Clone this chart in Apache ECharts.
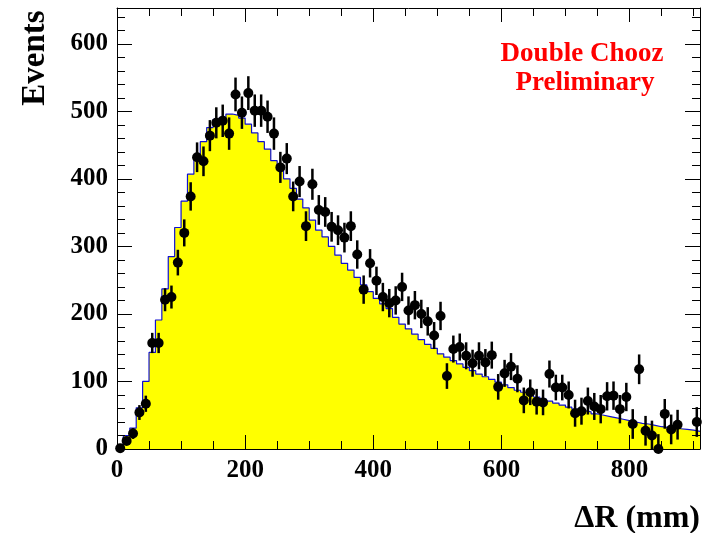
<!DOCTYPE html>
<html><head><meta charset="utf-8">
<script src="https://cdn.jsdelivr.net/npm/echarts@6/dist/echarts.min.js"></script>
<style>html,body{margin:0;padding:0;background:#fff}#c{width:708px;height:533px}</style>
</head><body><div id="c"></div>
<script>
const binWidth = 10;
const xRange = [0, 910];
const yRange = [0, 653];
const xTickLabels = [0, 200, 400, 600, 800];
const yTickLabels = [0, 100, 200, 300, 400, 500, 600];

// Data points (events per 10 mm bin), bin i covers [10i, 10i+10)
const dataValues = [1,12,23,54,67,157,157,221,225,276,
 320,374,432,426,464,483,486,467,525,498,
 527,501,501,492,467,417,430,374,396,330,
 392,354,351,329,324,313,330,288,236,275,
 249,225,216,220,240,205,213,200,189,168,
 197,108,148,151,138,127,138,128,139,92,
 112,122,104,72,84,70,69,111,91,91,
 80,53,56,71,63,59,78,79,59,77,
 37,118,27,20,0,52,29,36,null,null,
 40];
const dataErrors = [4,6,8,11,12,15,15,17,17,19,
 20,21,22,22,23,23,24,24,25,24,
 25,24,24,24,24,23,23,22,23,22,
 23,22,22,22,22,22,22,21,21,21,
 21,21,21,21,21,21,21,21,21,20,
 21,19,20,20,20,20,20,20,20,19,
 20,20,20,19,19,19,19,20,19,19,
 20,20,20,20,20,21,21,21,21,21,
 22,22,22,22,22,22,22,22,null,null,
 22];
// MC expectation histogram
const mcValues = [6,20,31,61,100,143,191,237,285,328,
 367,407,431,455,476,488,491,496,494,490,
 481,468,455,444,427,413,400,386,370,357,
 339,324,314,300,287,275,265,254,243,233,
 223,215,208,195,185,178,170,162,155,149,
 141,136,131,126,121,116,111,107,103,99,
 95,91,87,84,80,77,74,71,68,65,
 62,59,57,55,52,50,48,46,44,42,
 40,38,37,35,33,32,31,30,29,28,
 26];

const FONT = '"Liberation Serif", "DejaVu Serif", serif';
const histData = mcValues.map((v, i) => [i * binWidth, v]);
histData.push([xRange[1], mcValues[mcValues.length - 1]]);
const pts = [], bars = [];
dataValues.forEach((v, i) => {
  if (v === null) return;
  const xc = i * binWidth + binWidth / 2;
  pts.push([xc, v]);
  bars.push([xc, v - dataErrors[i], v + dataErrors[i]]);
});

const lineS = {color: '#000', width: 1};
function xAx(pos, interval, len, labels, line) {
  return {type: 'value', min: xRange[0], max: xRange[1], interval: interval, position: pos, z: 10,
    axisLine: {show: line, onZero: false, lineStyle: lineS},
    axisTick: {show: true, inside: true, length: len, lineStyle: lineS},
    axisLabel: {show: labels, showMaxLabel: false, margin: 9, color: '#000', fontFamily: FONT, fontWeight: 'bold', fontSize: 25,
      formatter: v => xTickLabels.includes(v) ? String(v) : ''},
    splitLine: {show: false}};
}
function yAx(pos, interval, len, labels, line) {
  return {type: 'value', min: yRange[0], max: yRange[1], interval: interval, position: pos, z: 10,
    axisLine: {show: line, onZero: false, lineStyle: lineS},
    axisTick: {show: true, inside: true, length: len, lineStyle: lineS},
    axisLabel: {show: labels, showMaxLabel: false, margin: 9, color: '#000', fontFamily: FONT, fontWeight: 'bold', fontSize: 25,
      formatter: v => yTickLabels.includes(v) ? String(v) : ''},
    splitLine: {show: false}};
}

const chart = echarts.init(document.getElementById('c'), null, {renderer: 'canvas'});
chart.setOption({
  animation: false,
  backgroundColor: '#fff',
  grid: {left: 117, top: 8, right: 8, bottom: 84, containLabel: false, show: false},
  xAxis: [xAx('bottom', 200, 14, true, true), xAx('bottom', 50, 8, false, false),
          xAx('top', 200, 14, false, true), xAx('top', 50, 8, false, false)],
  yAxis: [yAx('left', 100, 15, true, true), yAx('left', 20, 8, false, false),
          yAx('right', 100, 15, false, true), yAx('right', 20, 8, false, false)],
  series: [
    {type: 'line', step: 'end', data: histData, symbol: 'none', z: 1,
      lineStyle: {color: '#1010d0', width: 1.2}, areaStyle: {color: '#ffff00', opacity: 1}},
    {type: 'custom', data: bars, z: 3, clip: true,
      encode: {x: 0, y: [1, 2]},
      renderItem: function (params, api) {
        const a = api.coord([api.value(0), api.value(1)]);
        const b = api.coord([api.value(0), api.value(2)]);
        return {type: 'line', shape: {x1: a[0], y1: a[1], x2: b[0], y2: b[1]}, style: {stroke: '#000', lineWidth: 2.5}};
      }},
    {type: 'scatter', data: pts, symbol: 'circle', symbolSize: 10, z: 4, clip: false,
      itemStyle: {color: '#000', opacity: 1}}
  ],
  graphic: [
    {type: 'text', x: 35, y: 58, rotation: Math.PI / 2, z: 20,
      style: {text: 'Events', font: 'bold 33px ' + FONT, fill: '#000', align: 'center', verticalAlign: 'middle'}},
    {type: 'text', x: 700, y: 519, z: 20,
      style: {text: 'ΔR (mm)', font: 'bold 32px ' + FONT, fill: '#000', align: 'right', verticalAlign: 'middle'}},
    {type: 'text', x: 582, y: 54, z: 20,
      style: {text: 'Double Chooz', font: 'bold 27px ' + FONT, fill: '#ff0000', align: 'center', verticalAlign: 'middle'}},
    {type: 'text', x: 585, y: 83, z: 20,
      style: {text: 'Preliminary', font: 'bold 27px ' + FONT, fill: '#ff0000', align: 'center', verticalAlign: 'middle'}}
  ]
});
</script></body></html>
